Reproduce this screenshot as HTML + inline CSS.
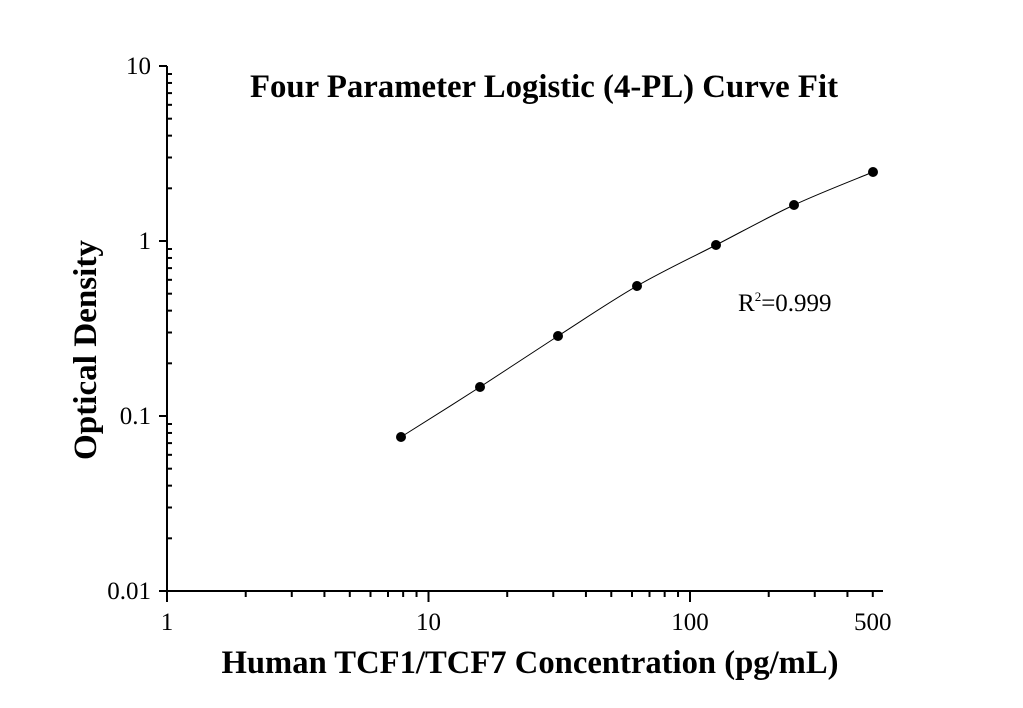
<!DOCTYPE html>
<html><head><meta charset="utf-8"><style>
html,body{margin:0;padding:0;background:#fff;}
svg{display:block;font-family:"Liberation Serif",serif;}
</style></head><body>
<svg id="s" width="1023" height="708" xmlns="http://www.w3.org/2000/svg">
<rect width="1023" height="708" fill="#fff"/>
<text x="544" y="97" font-size="32.5" font-weight="bold" text-anchor="middle" textLength="588" lengthAdjust="spacingAndGlyphs">Four Parameter Logistic (4-PL) Curve Fit</text>
<text x="530" y="673" font-size="32.5" font-weight="bold" text-anchor="middle" textLength="617" lengthAdjust="spacingAndGlyphs">Human TCF1/TCF7 Concentration (pg/mL)</text>
<text transform="translate(96,350) rotate(-90)" font-size="33" font-weight="bold" text-anchor="middle" textLength="220" lengthAdjust="spacingAndGlyphs">Optical Density</text>
<text x="738" y="311" font-size="25">R<tspan dy="-10" font-size="13">2</tspan><tspan dy="10">=0.999</tspan></text>
<g id="g" stroke="#000" fill="none"></g>
<g id="t" font-size="25"></g>
</svg>
<script>
var g=document.getElementById('g'),t=document.getElementById('t'),NS='http://www.w3.org/2000/svg';
function X(v){return 167+261.5*Math.log10(v);}
function Y(v){return 591-175*(Math.log10(v)+2);}
function el(p,tag,a,txt){var e=document.createElementNS(NS,tag);for(var k in a)e.setAttribute(k,a[k]);if(txt)e.textContent=txt;p.appendChild(e);return e;}
el(g,'line',{x1:167,y1:66,x2:167,y2:591,'stroke-width':2});
el(g,'line',{x1:159,y1:591,x2:883,y2:591,'stroke-width':2});
for(var d=1;d<=100;d*=10)for(var m=1;m<10;m++){var v=d*m;if(v>500)break;var x=X(v);
 el(g,'line',{x1:x,y1:591,x2:x,y2:m==1?602:597,'stroke-width':2});}
[[1,'1'],[10,'10'],[100,'100'],[500,'500']].forEach(function(a){el(t,'text',{x:X(a[0]),y:630,'text-anchor':'middle'},a[1]);});
for(var d=0.01;d<10;d*=10)for(var m=1;m<10;m++){var v=d*m,y=Y(v);
 if(m==1)el(g,'line',{x1:159,y1:y,x2:167,y2:y,'stroke-width':2});
 else el(g,'line',{x1:167,y1:y,x2:172,y2:y,'stroke-width':2});}
el(g,'line',{x1:159,y1:66,x2:167,y2:66,'stroke-width':2});
[[10,'10',74],[1,'1',249],[0.1,'0.1',424],[0.01,'0.01',599]].forEach(function(a){el(t,'text',{x:151,y:a[2],'text-anchor':'end'},a[1]);});
var P=[[401,437],[480,387],[558,336],[637,286],[716,245],[794,205],[873,172]];
var d='M'+P[0][0]+','+P[0][1];
for(var i=0;i<P.length-1;i++){var p0=P[Math.max(i-1,0)],p1=P[i],p2=P[i+1],p3=P[Math.min(i+2,P.length-1)];
 d+=' C'+(p1[0]+(p2[0]-p0[0])/6)+','+(p1[1]+(p2[1]-p0[1])/6)+' '+(p2[0]-(p3[0]-p1[0])/6)+','+(p2[1]-(p3[1]-p1[1])/6)+' '+p2[0]+','+p2[1];}
el(g,'path',{d:d,'stroke-width':1});
P.forEach(function(p){el(g,'circle',{cx:p[0],cy:p[1],r:5,fill:'#000',stroke:'none'});});
</script>
</body></html>
